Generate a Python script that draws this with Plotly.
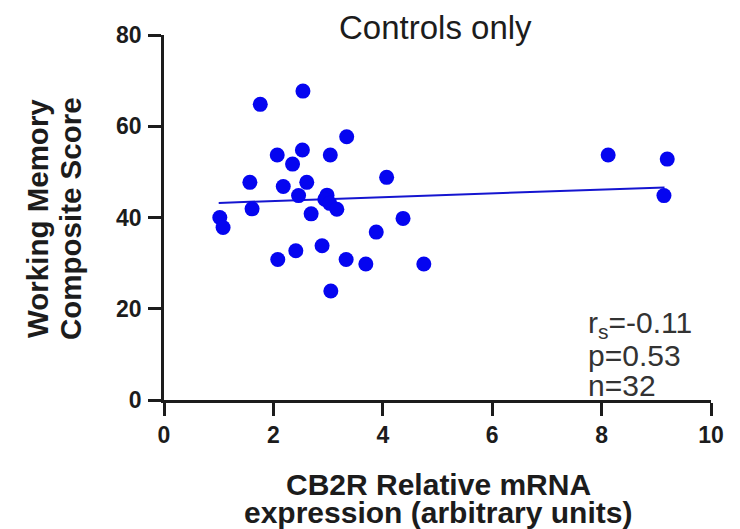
import plotly.graph_objects as go

# Data
cb2r = [2.54, 1.76, 3.34, 2.07, 2.53, 3.04, 2.35, 1.57, 2.18, 2.61, 4.07, 2.46,
        2.98, 2.94, 3.03, 3.16, 1.61, 2.69, 1.02, 1.08, 4.37, 3.88, 2.89, 2.41,
        2.08, 3.33, 3.69, 4.75, 3.05, 8.12, 9.20, 9.14]
wm_score = [67.7, 64.8, 57.7, 53.7, 54.8, 53.7, 51.7, 47.7, 46.8, 47.7, 48.8, 44.8,
            44.9, 44.0, 43.1, 41.8, 41.9, 40.8, 40.0, 37.8, 39.8, 36.8, 33.8, 32.7,
            30.8, 30.8, 29.8, 29.8, 23.9, 53.7, 52.8, 44.8]
fit_x = [1.0, 9.15]
fit_y = [43.2, 46.6]
x_ticks = [0, 2, 4, 6, 8, 10]
y_ticks = [0, 20, 40, 60, 80]
stats_lines = ["r<sub>s</sub>=-0.11", "p=0.53", "n=32"]

blue = "#0505f0"
font = "Liberation Sans, Arial, sans-serif"
ink = "#1c1c1c"

W, H = 740, 529
l, r, t, b = 164, 29, 35, 129
pw, ph = W - l - r, H - t - b


def px(x):
    return (x - l) / pw


def py(y):
    return 1 - (y - t) / ph


fig = go.Figure()
fig.add_trace(go.Scatter(x=fit_x, y=fit_y, mode="lines",
                         line=dict(color="#1515d0", width=2), showlegend=False))
fig.add_trace(go.Scatter(x=cb2r, y=wm_score, mode="markers",
                         marker=dict(color=blue, size=15, line=dict(width=0)),
                         showlegend=False, cliponaxis=False))

axis_common = dict(showline=True, linecolor=ink, linewidth=2.5, ticks="outside",
                   ticklen=13, tickwidth=2.5, tickcolor=ink, showgrid=False,
                   zeroline=False,
                   tickfont=dict(size=23, family=font, color=ink, weight="bold"))

fig.update_layout(
    width=W, height=H,
    margin=dict(l=l, r=r, t=t, b=b),
    paper_bgcolor="white", plot_bgcolor="white",
    font=dict(family=font, color=ink),
    xaxis=dict(range=[0, 10], tickvals=x_ticks, ticklabelstandoff=0, **axis_common),
    yaxis=dict(range=[0, 80], tickvals=y_ticks, ticklabelstandoff=2, **axis_common),
)

anns = [
    dict(text="Controls only", x=px(435), y=py(28), size=33, angle=0),
    dict(text="<b>Working Memory</b>", x=px(37), y=py(219), size=29.5, angle=-90),
    dict(text="<b>Composite Score</b>", x=px(70), y=py(219), size=29.5, angle=-90),
    dict(text="<b>CB2R Relative mRNA</b>", x=px(438), y=py(484), size=30, angle=0),
    dict(text="<b>expression (arbitrary units)</b>", x=px(438), y=py(512), size=30, angle=0),
]
for a in anns:
    fig.add_annotation(text=a["text"], x=a["x"], y=a["y"], xref="paper", yref="paper",
                       showarrow=False, textangle=a["angle"], xanchor="center",
                       yanchor="middle", font=dict(size=a["size"], family=font, color=ink))

stat_size = 30
for txt, center in zip(stats_lines, [324, 355, 385]):
    fig.add_annotation(text=txt, x=px(586), y=py(center),
                       xref="paper", yref="paper", showarrow=False,
                       xanchor="left", yanchor="middle",
                       font=dict(size=stat_size, family=font, color="#333333"))

fig.write_html("out.html")
